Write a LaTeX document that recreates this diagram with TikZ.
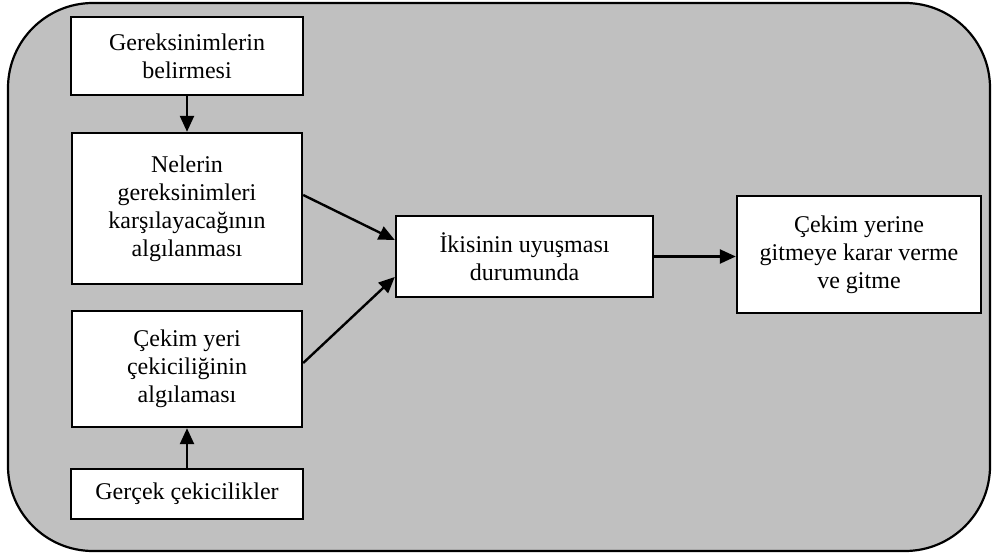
\documentclass[tikz,border=0pt]{standalone}
\usepackage{fontspec}
\setmainfont{Liberation Serif}
\usetikzlibrary{arrows.meta}
\definecolor{panelgray}{HTML}{C0C0C0}
\begin{document}
\begin{tikzpicture}[x=1pt,y=-1pt,
  stepbox/.style={draw=black,line width=2.4pt,fill=white,rectangle,align=center,
    inner sep=0pt,font=\fontsize{24}{28}\selectfont},
  flow/.style={line width=2.4pt,-{Triangle[length=16pt,width=14pt]}}]
  \useasboundingbox (0,0) rectangle (992,556);
  % rounded grey panel behind the flow
  \draw[line width=2.2pt,fill=panelgray,rounded corners=85pt] (8,3) rectangle (990,551);

  \node[stepbox,minimum width=232pt,minimum height=78pt] (b1) at (187,56)
    {Gereksinimlerin\\belirmesi};
  \node[stepbox,minimum width=230pt,minimum height=151pt] (b2) at (187,208.5)
    {Nelerin\\gereksinimleri\\karşılayacağının\\algılanması};
  \node[stepbox,minimum width=230pt,minimum height=116pt] (b3) at (187,369)
    {Çekim yeri\\çekiciliğinin\\algılaması};
  \node[stepbox,minimum width=232pt,minimum height=50pt] (b4) at (187,494)
    {Gerçek çekicilikler};
  \node[stepbox,minimum width=257pt,minimum height=81pt] (b5) at (524.5,256.5)
    {İkisinin uyuşması\\durumunda};
  \node[stepbox,minimum width=244pt,minimum height=117pt] (b6) at (859,254.5)
    {Çekim yerine\\gitmeye karar verme\\ve gitme};

  \draw[flow] (b1.south) -- (b2.north);
  \draw[flow] (b4.north) -- (b3.south);
  \draw[flow] ([yshift=13.5pt]b2.east) -- ([yshift=16.5pt]b5.west);
  \draw[flow] ([yshift=6pt]b3.east) -- ([yshift=-20.5pt]b5.west);
  \draw[flow] (b5.east) -- (b6.west |- b5.east);
\end{tikzpicture}
\end{document}
